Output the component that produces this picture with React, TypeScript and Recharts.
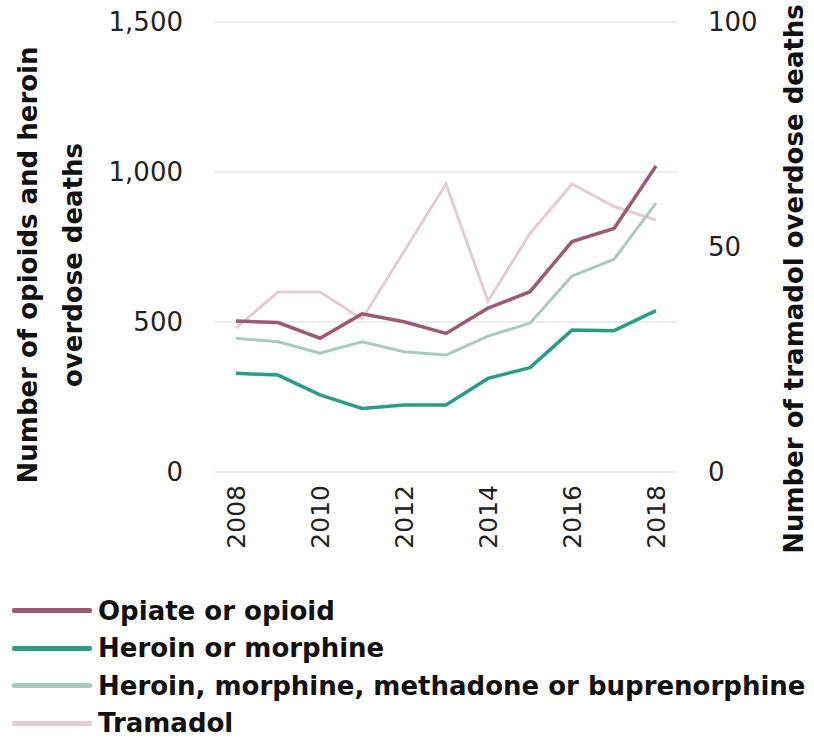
import React from "react";
import {
  LineChart,
  Line,
  XAxis,
  YAxis,
  CartesianGrid,
} from "recharts";

const years = ["2008", "2009", "2010", "2011", "2012", "2013", "2014", "2015", "2016", "2017", "2018"];
const opiate = [503, 498, 446, 527, 501, 462, 546, 601, 768, 812, 1020];
const heroinMorphine = [329, 323, 257, 212, 223, 223, 312, 348, 473, 471, 538];
const heroinMethadone = [446, 434, 396, 434, 401, 390, 453, 496, 653, 709, 896];
const tramadol = [32, 40, 40, 34, 49, 64, 38, 53, 64, 59, 56];

const leftTicks = [0, 500, 1000, 1500];
const rightTicks = [0, 50, 100];

const leftTitle = ["Number of opioids and heroin", "overdose deaths"];
const rightTitle = "Number of tramadol overdose deaths";

const series = [
  { key: "tramadol", name: "Tramadol", color: "#e6cdd4", width: 3, axis: "right" },
  { key: "heroinMethadone", name: "Heroin, morphine, methadone or buprenorphine", color: "#a9cbbb", width: 3, axis: "left" },
  { key: "heroinMorphine", name: "Heroin or morphine", color: "#2c9c85", width: 3.5, axis: "left" },
  { key: "opiate", name: "Opiate or opioid", color: "#9c5a77", width: 3.5, axis: "left" },
];
const legendOrder = ["opiate", "heroinMorphine", "heroinMethadone", "tramadol"];

const data = years.map((year, i) => ({
  year,
  opiate: opiate[i],
  heroinMorphine: heroinMorphine[i],
  heroinMethadone: heroinMethadone[i],
  tramadol: tramadol[i],
}));

const FONT = "'DejaVu Sans', sans-serif";

const YearTick = (props: any) => {
  const { x, y, payload } = props;
  return (
    <text
      x={x}
      y={y}
      dy={9}
      transform={`rotate(-90, ${x}, ${y})`}
      textAnchor="end"
      fontSize={25}
      fontFamily={FONT}
      fill="#222"
    >
      {payload.value}
    </text>
  );
};

const LeftTitle = () => (
  <g>
    <text
      transform="translate(37,265) rotate(-90)"
      textAnchor="middle"
      fontSize={26}
      fontWeight="bold"
      fontFamily={FONT}
      fill="#111"
    >
      {leftTitle[0]}
    </text>
    <text
      transform="translate(82,265) rotate(-90)"
      textAnchor="middle"
      fontSize={26}
      fontWeight="bold"
      fontFamily={FONT}
      fill="#111"
    >
      {leftTitle[1]}
    </text>
  </g>
);

const RightTitle = () => (
  <text
    transform="translate(803,279) rotate(-90)"
    textAnchor="middle"
    fontSize={26}
    fontWeight="bold"
    fontFamily={FONT}
    fill="#111"
  >
    {rightTitle}
  </text>
);

export default function App() {
  return (
    <div style={{ position: "absolute", left: 0, top: 0, width: 814, height: 740, background: "#fff" }}>
      <LineChart
        width={814}
        height={580}
        data={data}
        margin={{ top: 22, right: 0, bottom: 0, left: 0 }}
      >
        <CartesianGrid yAxisId="left" vertical={false} stroke="#d9d9d9" strokeWidth={1.2} />
        <XAxis
          dataKey="year"
          interval={1}
          height={108}
          padding={{ left: 21, right: 21 }}
          axisLine={false}
          tickLine={false}
          tickSize={0}
          tickMargin={13}
          tick={<YearTick />}
        />
        <YAxis
          yAxisId="left"
          width={215}
          domain={[0, 1500]}
          ticks={leftTicks}
          axisLine={false}
          tickLine={false}
          tickSize={0}
          tickMargin={32}
          tickFormatter={(v: number) => v.toLocaleString("en-US")}
          tick={{ fontSize: 26, fontFamily: FONT, fill: "#222" }}
          label={<LeftTitle />}
        />
        <YAxis
          yAxisId="right"
          orientation="right"
          width={137}
          domain={[0, 100]}
          ticks={rightTicks}
          axisLine={false}
          tickLine={false}
          tickSize={0}
          tickMargin={31}
          tick={{ fontSize: 26, fontFamily: FONT, fill: "#222" }}
          label={<RightTitle />}
        />
        {series.map((s) => (
          <Line
            key={s.key}
            yAxisId={s.axis}
            dataKey={s.key}
            name={s.name}
            stroke={s.color}
            strokeWidth={s.width}
            dot={false}
            type="linear"
            isAnimationActive={false}
          />
        ))}
      </LineChart>
      <div style={{ position: "absolute", left: 0, top: 592, fontFamily: FONT }}>
        {legendOrder.map((k) => {
          const s = series.find((x) => x.key === k)!;
          return (
            <div key={k} style={{ display: "flex", alignItems: "center", height: 37.5 }}>
              <div style={{ width: 80, height: 5, marginLeft: 12, marginRight: 6, background: s.color, borderRadius: 2 }} />
              <span style={{ fontSize: 26, fontWeight: "bold", color: "#111", whiteSpace: "nowrap" }}>{s.name}</span>
            </div>
          );
        })}
      </div>
    </div>
  );
}
